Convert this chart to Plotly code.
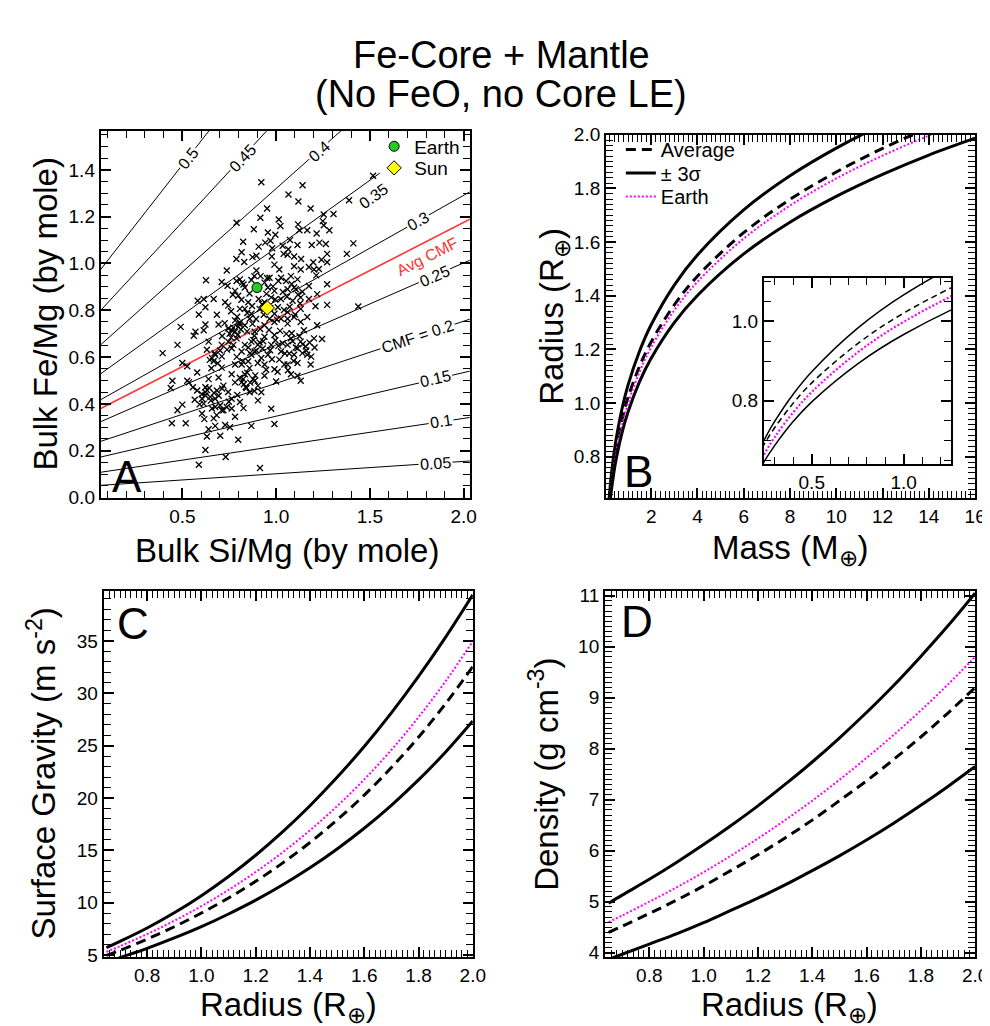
import plotly.graph_objects as go

FONT = "Liberation Sans, Arial, Helvetica, sans-serif"

# ---------------- Panel A data ----------------
si_mg = [0.921, 1.141, 1.066, 1.119, 1.517, 1.389, 1.184, 0.952, 1.254, 1.306, 1.014, 0.916, 0.789, 1.023,
         0.881, 1.117, 1.124, 1.166, 1.249, 1.254, 1.284, 0.956, 0.996, 1.216, 0.824, 0.942, 0.970, 1.074,
         1.114, 1.190, 1.231, 1.265, 1.412, 0.907, 0.979, 1.035, 1.065, 0.816, 0.874, 0.788, 0.830, 0.895,
         0.977, 1.040, 1.061, 1.096, 1.133, 1.198, 1.242, 1.272, 1.272, 1.377, 0.737, 0.895, 0.991, 1.017,
         1.096, 1.131, 1.175, 1.202, 1.228, 0.626, 0.710, 0.789, 0.819, 0.868, 0.917, 0.965, 1.026, 1.079,
         1.114, 1.175, 1.214, 1.272, 0.781, 0.833, 0.956, 0.991, 1.061, 1.096, 1.140, 1.219, 0.582, 0.614,
         0.667, 0.728, 0.798, 0.851, 0.907, 0.974, 1.026, 1.088, 1.131, 1.175, 0.588, 0.623, 0.684, 0.745,
         0.807, 0.868, 0.912, 1.009, 1.061, 1.096, 1.166, 1.210, 1.272, 1.438, 0.781, 0.807, 0.938, 1.053,
         1.105, 0.938, 0.991, 0.833, 0.859, 1.061, 0.965, 1.131, 1.026,
         0.491, 0.623, 0.693, 0.763, 0.570, 0.614, 0.561, 0.474, 0.395, 0.640, 0.710, 0.789, 0.833, 0.886,
         0.938, 0.991, 1.061, 1.131, 1.219, 1.202, 1.245, 1.079, 1.035, 1.114, 1.158, 1.140, 1.184, 1.114,
         1.061, 1.017, 0.956, 0.886, 0.816, 0.763, 0.675, 0.631, 0.500, 0.526, 0.579, 0.667, 0.710, 0.781,
         0.833, 0.886, 0.938, 1.000, 1.079, 1.131, 1.114, 0.447, 0.438, 0.526, 0.535, 0.579, 0.623, 0.640,
         0.684, 0.719, 0.781, 0.824, 0.877, 0.859, 0.921, 0.605, 0.623, 0.675, 0.763, 0.807, 0.903, 0.474,
         0.500, 0.605, 0.658, 0.702, 0.719, 0.763, 0.781, 0.974, 0.444, 0.518, 0.667, 0.640, 0.675, 0.728,
         0.754, 0.868, 0.991, 0.631, 0.702, 0.798, 0.623, 0.731, 0.588, 0.914,
         0.745, 0.781, 0.798, 0.868, 0.903, 0.868, 0.921, 0.974, 0.816, 0.851, 0.658, 0.710, 1.061, 1.096,
         1.131, 1.166, 1.026, 0.991, 0.938, 0.833, 0.745, 0.623, 0.649, 0.614, 0.816, 0.903, 0.693, 0.763,
         0.938, 0.991, 1.044, 0.710, 0.737, 0.675,
         0.752, 0.771, 0.795, 0.812, 0.760, 0.803, 0.852, 0.879, 0.895, 0.912, 0.861, 0.928, 0.884,
         1.070, 1.088, 1.105, 1.124, 1.142, 1.161, 1.178, 1.083, 0.646, 0.672, 0.689, 0.701, 0.655,
         0.806, 0.828, 0.846, 0.862, 0.889, 0.842, 0.604, 0.632, 0.652, 0.668,
         0.792, 0.815, 0.826, 0.846, 0.858, 0.872, 0.884, 0.893, 0.901, 0.925, 0.934, 0.948, 0.952, 0.968,
         0.983, 0.995, 1.004, 1.012, 1.036, 1.042, 1.058, 1.072, 1.083, 1.101, 1.117, 1.128, 0.760, 0.769,
         0.741,
         0.712, 0.726, 0.738, 0.772, 0.790, 0.806, 0.822, 0.845, 0.858, 0.874, 0.902, 0.915, 0.931, 0.947,
         0.962, 0.978, 0.996, 1.008, 1.021, 1.047, 1.054, 1.063, 1.093, 1.148, 1.187, 1.205, 0.968, 1.012,
         0.556, 0.592, 0.643, 0.694, 0.712, 0.744, 0.793, 0.838, 0.884, 0.617, 0.683, 0.748, 0.826, 0.566]
fe_mg = [1.347, 1.334, 1.295, 1.265, 1.375, 1.270, 1.235, 1.235, 1.209, 1.211, 1.188, 1.195, 1.174, 1.160,
         1.146, 1.167, 1.142, 1.142, 1.181, 1.163, 1.142, 1.132, 1.123, 1.128, 1.093, 1.089, 1.097, 1.100,
         1.079, 1.079, 1.089, 1.083, 1.086, 1.072, 1.065, 1.076, 1.061, 1.048, 1.027, 1.019, 1.006, 1.033,
         1.030, 1.041, 1.037, 1.030, 1.019, 1.005, 1.016, 1.041, 1.005, 1.041, 0.970, 0.970, 0.995, 0.974,
         0.988, 0.974, 0.985, 0.974, 0.976, 0.928, 0.921, 0.925, 0.918, 0.929, 0.946, 0.939, 0.939, 0.946,
         0.932, 0.904, 0.949, 0.911, 0.883, 0.897, 0.897, 0.883, 0.890, 0.897, 0.879, 0.869, 0.841, 0.848,
         0.848, 0.834, 0.862, 0.834, 0.848, 0.855, 0.848, 0.841, 0.855, 0.848, 0.782, 0.813, 0.781, 0.820,
         0.806, 0.785, 0.806, 0.813, 0.792, 0.771, 0.771, 0.817, 0.823, 0.816, 0.757, 0.932, 0.918, 0.925,
         0.890, 0.834, 0.785, 0.806, 0.764, 0.764, 0.764, 0.806, 0.764,
         0.729, 0.739, 0.739, 0.715, 0.708, 0.715, 0.691, 0.652, 0.617, 0.666, 0.652, 0.680, 0.736, 0.708,
         0.736, 0.750, 0.743, 0.750, 0.736, 0.680, 0.677, 0.680, 0.659, 0.638, 0.645, 0.617, 0.568, 0.575,
         0.568, 0.589, 0.610, 0.624, 0.624, 0.638, 0.610, 0.631, 0.575, 0.561, 0.534, 0.582, 0.555, 0.568,
         0.527, 0.499, 0.520, 0.496, 0.527, 0.499, 0.520, 0.499, 0.468, 0.499, 0.492, 0.457, 0.471, 0.506,
         0.457, 0.478, 0.492, 0.506, 0.506, 0.450, 0.450, 0.422, 0.436, 0.422, 0.422, 0.408, 0.415, 0.373,
         0.397, 0.359, 0.380, 0.394, 0.373, 0.380, 0.345, 0.379, 0.317, 0.317, 0.338, 0.292, 0.306, 0.310,
         0.300, 0.306, 0.314, 0.261, 0.264, 0.247, 0.203, 0.173, 0.140, 0.126,
         0.722, 0.708, 0.729, 0.666, 0.652, 0.610, 0.596, 0.652, 0.568, 0.582, 0.596, 0.603, 0.652, 0.610,
         0.666, 0.610, 0.624, 0.694, 0.687, 0.652, 0.666, 0.450, 0.429, 0.401, 0.492, 0.478, 0.513, 0.527,
         0.568, 0.548, 0.568, 0.373, 0.387, 0.387,
         0.700, 0.726, 0.694, 0.718, 0.683, 0.741, 0.641, 0.673, 0.628, 0.662, 0.617, 0.637, 0.691,
         0.615, 0.668, 0.641, 0.689, 0.655, 0.628, 0.662, 0.702, 0.588, 0.617, 0.574, 0.628, 0.552,
         0.512, 0.484, 0.533, 0.491, 0.522, 0.468, 0.441, 0.459, 0.414, 0.447,
         0.772, 0.845, 0.910, 0.788, 0.872, 0.818, 0.946, 0.763, 0.893, 0.826, 0.781, 0.870, 0.938, 0.809,
         0.902, 0.846, 0.760, 0.925, 0.878, 0.801, 0.858, 0.815, 0.912, 0.782, 0.866, 0.829, 0.796, 0.866,
         0.905,
         0.690, 0.745, 0.632, 0.652, 0.601, 0.748, 0.582, 0.710, 0.553, 0.742, 0.575, 0.720, 0.668, 0.546,
         0.716, 0.591, 0.672, 0.537, 0.712, 0.615, 0.699, 0.544, 0.583, 0.715, 0.602, 0.641, 0.629, 0.648,
         0.471, 0.398, 0.468, 0.435, 0.466, 0.451, 0.438, 0.472, 0.455, 0.335, 0.352, 0.409, 0.382, 0.418]

earth_point = [0.898, 0.897]
sun_point = [0.953, 0.810]

# CMF iso-lines: Fe/Mg at the left end (Si/Mg=0.065) and at the right end of each drawn line
cmf_levels = ["0.05", "0.1", "0.15", "0.2", "0.25", "0.3", "0.35", "0.4", "0.45", "0.5"]
cmf_x_left = 0.065
cmf_x_right = [2.033, 2.033, 2.033, 2.033, 2.033, 2.033, 1.553, 2.033, 2.033, 2.033]
cmf_left = [0.052, 0.108, 0.173, 0.240, 0.324, 0.418, 0.529, 0.653, 0.800, 0.975]
cmf_right = [0.156, 0.342, 0.540, 0.762, 1.014, 1.306, 1.386, 2.057, 2.505, 2.994]
avg_cmf_x = [0.065, 2.033]
avg_cmf_ends = [0.380, 1.189]

# label positions (Si/Mg, Fe/Mg, angle)
cmf_label_text = ["0.05", "0.1", "0.15", "CMF = 0.2", "0.25", "0.3", "0.35", "0.4", "0.45", "0.5"]
cmf_label_x = [1.851, 1.877, 1.851, 1.754, 1.842, 1.754, 1.517, 1.23, 0.82, 0.53]
cmf_label_y = [0.147, 0.324, 0.507, 0.688, 0.946, 1.180, 1.288, 1.48, 1.45, 1.45]
cmf_label_ang = [-4, -8.5, -13, -18.4, -23.7, -29.5, -36, -42, -47, -52]
cmf_label_bg = [True, True, True, True, True, True, False, True, True, True]

# ---------------- Panel B data ----------------
mass = [0.18, 0.2, 0.25, 0.3, 0.4, 0.5, 0.75, 1, 1.5, 2, 3, 4, 6, 8, 10, 12, 14, 16]
r_upper = [0.640, 0.661, 0.709, 0.749, 0.817, 0.873, 0.983, 1.067, 1.194, 1.292, 1.440, 1.552, 1.720,
           1.847, 1.950, 2.038, 2.114, 2.180]
r_avg = [0.635, 0.654, 0.697, 0.733, 0.794, 0.845, 0.944, 1.021, 1.138, 1.228, 1.366, 1.473, 1.635,
         1.759, 1.861, 1.949, 2.025, 2.094]
r_earth = [0.610, 0.629, 0.672, 0.709, 0.771, 0.822, 0.922, 0.999, 1.117, 1.208, 1.346, 1.452, 1.613,
           1.736, 1.837, 1.922, 1.997, 2.064]
r_lower = [0.593, 0.611, 0.653, 0.688, 0.748, 0.797, 0.893, 0.967, 1.080, 1.167, 1.300, 1.401, 1.556,
           1.674, 1.770, 1.852, 1.924, 1.987]

# ---------------- Panels C & D data ----------------
radius = [0.65, 0.7, 0.8, 0.9, 1.0, 1.1, 1.2, 1.3, 1.4, 1.5, 1.6, 1.7, 1.8, 1.9, 2.0]
g_upper = [5.70, 6.30, 7.58, 9.03, 10.67, 12.50, 14.53, 16.78, 19.26, 21.97, 24.92, 28.13, 31.61, 35.36, 39.40]
g_earth = [5.30, 5.85, 7.00, 8.27, 9.67, 11.22, 12.93, 14.82, 16.91, 19.22, 21.77, 24.59, 27.71, 31.15, 34.96]
g_avg = [4.97, 5.45, 6.52, 7.70, 9.01, 10.45, 12.04, 13.80, 15.75, 17.90, 20.27, 22.90, 25.80, 29.01, 32.55]
g_lower = [4.30, 4.75, 5.64, 6.63, 7.71, 8.92, 10.24, 11.71, 13.33, 15.13, 17.11, 19.30, 21.72, 24.39, 27.35]

rho_upper = [4.97, 5.13, 5.44, 5.77, 6.12, 6.49, 6.88, 7.30, 7.74, 8.21, 8.71, 9.24, 9.81, 10.41, 11.05]
rho_earth = [4.60, 4.73, 5.00, 5.28, 5.58, 5.90, 6.24, 6.60, 6.98, 7.39, 7.82, 8.27, 8.75, 9.26, 9.80]
rho_avg = [4.40, 4.52, 4.77, 5.03, 5.31, 5.61, 5.92, 6.25, 6.60, 6.98, 7.37, 7.79, 8.23, 8.70, 9.20]
rho_lower = [3.87, 3.97, 4.17, 4.37, 4.59, 4.83, 5.07, 5.33, 5.61, 5.90, 6.21, 6.54, 6.89, 7.26, 7.65]

W, H = 990, 1026


def px(x):
    return x / W


def py(y):
    return 1 - y / H


fig = go.Figure()

# ---- Panel A ----
for lvl, xr, l, r in zip(cmf_levels, cmf_x_right, cmf_left, cmf_right):
    fig.add_trace(go.Scatter(x=[cmf_x_left, xr], y=[l, r], mode="lines", line=dict(color="black", width=1),
                             showlegend=False, hoverinfo="skip", xaxis="x", yaxis="y"))
fig.add_trace(go.Scatter(x=avg_cmf_x, y=avg_cmf_ends, mode="lines", line=dict(color="#ff3333", width=1.6),
                         showlegend=False, xaxis="x", yaxis="y"))
fig.add_trace(go.Scatter(x=si_mg, y=fe_mg, mode="markers",
                         marker=dict(symbol="x-thin", size=6, line=dict(color="black", width=1.3)),
                         showlegend=False, xaxis="x", yaxis="y"))
fig.add_trace(go.Scatter(x=[earth_point[0]], y=[earth_point[1]], mode="markers", name="Earth",
                         marker=dict(symbol="circle", size=10, color="#22cc22", line=dict(color="black", width=1)),
                         legend="legend", xaxis="x", yaxis="y"))
fig.add_trace(go.Scatter(x=[sun_point[0]], y=[sun_point[1]], mode="markers", name="Sun",
                         marker=dict(symbol="diamond", size=11, color="#ffff00", line=dict(color="black", width=1)),
                         legend="legend2", xaxis="x", yaxis="y"))

# ---- Panel B (main + inset) ----
SOLID = dict(color="black", width=3, shape="spline")
DASH = dict(color="black", width=3, dash="10px,6px", shape="spline")
DOT = dict(color="#ff00ff", width=2, dash="2px,2px", shape="spline")


def inset_style(d):
    d = dict(d)
    d["width"] = 1.5 if d["color"] == "black" else 2.2
    if d.get("dash") == "10px,6px":
        d["dash"] = "6px,4px"
    return d


for xa, ya, inset in (("x2", "y2", False), ("x3", "y3", True)):
    st = inset_style if inset else (lambda d: d)
    fig.add_trace(go.Scatter(x=mass, y=r_avg, mode="lines", line=st(DASH), name="Average",
                             showlegend=not inset, legend="legend3", xaxis=xa, yaxis=ya))
    fig.add_trace(go.Scatter(x=mass, y=r_upper, mode="lines", line=st(SOLID), name="\u00b1 3\u03c3",
                             showlegend=not inset, legend="legend4", xaxis=xa, yaxis=ya))
    fig.add_trace(go.Scatter(x=mass, y=r_earth, mode="lines", line=st(DOT), name="Earth",
                             showlegend=not inset, legend="legend5", xaxis=xa, yaxis=ya))
    fig.add_trace(go.Scatter(x=mass, y=r_lower, mode="lines", line=st(SOLID), name="lower",
                             showlegend=False, xaxis=xa, yaxis=ya))

# ---- Panel C ----
for yy, ln in ((g_upper, SOLID), (g_earth, DOT), (g_avg, DASH), (g_lower, SOLID)):
    fig.add_trace(go.Scatter(x=radius, y=yy, mode="lines", line=ln, showlegend=False, xaxis="x4", yaxis="y4"))
# ---- Panel D ----
for yy, ln in ((rho_upper, SOLID), (rho_earth, DOT), (rho_avg, DASH), (rho_lower, SOLID)):
    fig.add_trace(go.Scatter(x=radius, y=yy, mode="lines", line=ln, showlegend=False, xaxis="x5", yaxis="y5"))

TICK = 19


def axis(domain, rng, dtick, mdtick, fmt, anchor, size=TICK):
    return dict(domain=domain, range=rng, anchor=anchor, showline=True, linecolor="black", linewidth=2,
                mirror="ticks", ticks="inside", ticklen=10, tickwidth=1.8, tickcolor="black",
                tick0=0, dtick=dtick, tickformat=fmt, showgrid=False, zeroline=False,
                tickfont=dict(size=size, color="black", family=FONT),
                minor=dict(tick0=0, dtick=mdtick, ticks="inside", ticklen=7, tickwidth=1.4,
                           tickcolor="black", showgrid=False))


ann = []
# titles
ann.append(dict(x=0.505, y=py(38), text="Fe-Core + Mantle", font=dict(size=38)))
ann.append(dict(x=0.505, y=py(78), text="(No FeO, no Core LE)", font=dict(size=38)))
# axis titles
TS = 33
ann.append(dict(x=px(283), y=py(543), text="Bulk Si/Mg (by mole)", font=dict(size=TS)))
ann.append(dict(x=px(38), y=py(302), text="Bulk Fe/Mg (by mole)", font=dict(size=TS), textangle=-90))
ann.append(dict(x=px(793), y=py(543), text="Mass (M<sub>\u2295</sub>)", font=dict(size=TS)))
ann.append(dict(x=px(553), y=py(304), text="Radius (R<sub>\u2295</sub>)", font=dict(size=TS), textangle=-90))
ann.append(dict(x=px(284), y=py(1009), text="Radius (R<sub>\u2295</sub>)", font=dict(size=TS)))
ann.append(dict(x=px(34), y=py(771), text="Surface Gravity (m s<sup>-2</sup>)", font=dict(size=TS), textangle=-90))
ann.append(dict(x=px(792), y=py(1009), text="Radius (R<sub>\u2295</sub>)", font=dict(size=TS)))
ann.append(dict(x=px(543), y=py(771), text="Density (g cm<sup>-3</sup>)", font=dict(size=TS), textangle=-90))
# panel letters
for t, x, y in (("A", 121, 468), ("B", 639, 463), ("C", 127, 618), ("D", 637, 616)):
    ann.append(dict(x=px(x), y=py(y), text=t, font=dict(size=44)))
for a in ann:
    a.update(xref="paper", yref="paper", showarrow=False, xanchor="center", yanchor="middle")
    a["font"].update(family=FONT, color="black")
# contour labels
for t, x, y, ang, bg in zip(cmf_label_text, cmf_label_x, cmf_label_y, cmf_label_ang, cmf_label_bg):
    ann.append(dict(x=x, y=y, xref="x", yref="y", text=t, textangle=ang, showarrow=False,
                    font=dict(size=16, family=FONT, color="black"),
                    bgcolor="white" if bg else None, borderpad=1))
ann.append(dict(x=1.807, y=1.03, xref="x", yref="y", text="Avg CMF", textangle=-27, showarrow=False,
                font=dict(size=16, family=FONT, color="#ff3333")))


def leg(x, y, size):
    return dict(x=px(x), y=py(y), xanchor="left", yanchor="middle", bgcolor="rgba(0,0,0,0)",
                font=dict(size=size, family=FONT, color="black"), itemwidth=30,
                tracegroupgap=0, borderwidth=0)


fig.update_layout(
    width=W, height=H, margin=dict(l=0, r=0, t=0, b=0),
    paper_bgcolor="white", plot_bgcolor="white",
    font=dict(family=FONT, color="black"),
    xaxis=axis([px(94), px(468)], [0.065, 2.033], 0.5, 0.1, ".1f", "y"),
    yaxis=axis([py(490), py(115)], [-0.004, 1.567], 0.2, 0.05, ".1f", "x"),
    xaxis2=axis([px(606), px(980)], [0.05, 16.0001], 2, 0.2, "d", "y2"),
    yaxis2=axis([py(490), py(119)], [0.645, 2.0001], 0.2, 0.02, ".1f", "x2"),
    xaxis3=axis([px(766), px(956)], [0.24, 1.26], 0.5, 0.1, ".1f", "y3"),
    yaxis3=axis([py(455), py(265)], [0.64, 1.11], 0.2, 0.05, ".1f", "x3"),
    xaxis4=axis([px(97), px(471)], [0.64, 2.0001], 0.2, 0.02, ".1f", "y4"),
    yaxis4=axis([py(958), py(584)], [4.78, 39.8], 5, 1, "d", "x4"),
    xaxis5=axis([px(605), px(980)], [0.637, 2.0001], 0.2, 0.02, ".1f", "y5"),
    yaxis5=axis([py(958), py(584)], [3.91, 11.1], 1, 0.1, "d", "x5"),
    legend=leg(371, 131, 19),
    legend2=leg(371, 153, 19),
    legend3=leg(621, 134, 20),
    legend4=leg(621, 158, 20),
    legend5=leg(621, 182, 20),
    annotations=ann,
)

fig.write_html("out.html")
